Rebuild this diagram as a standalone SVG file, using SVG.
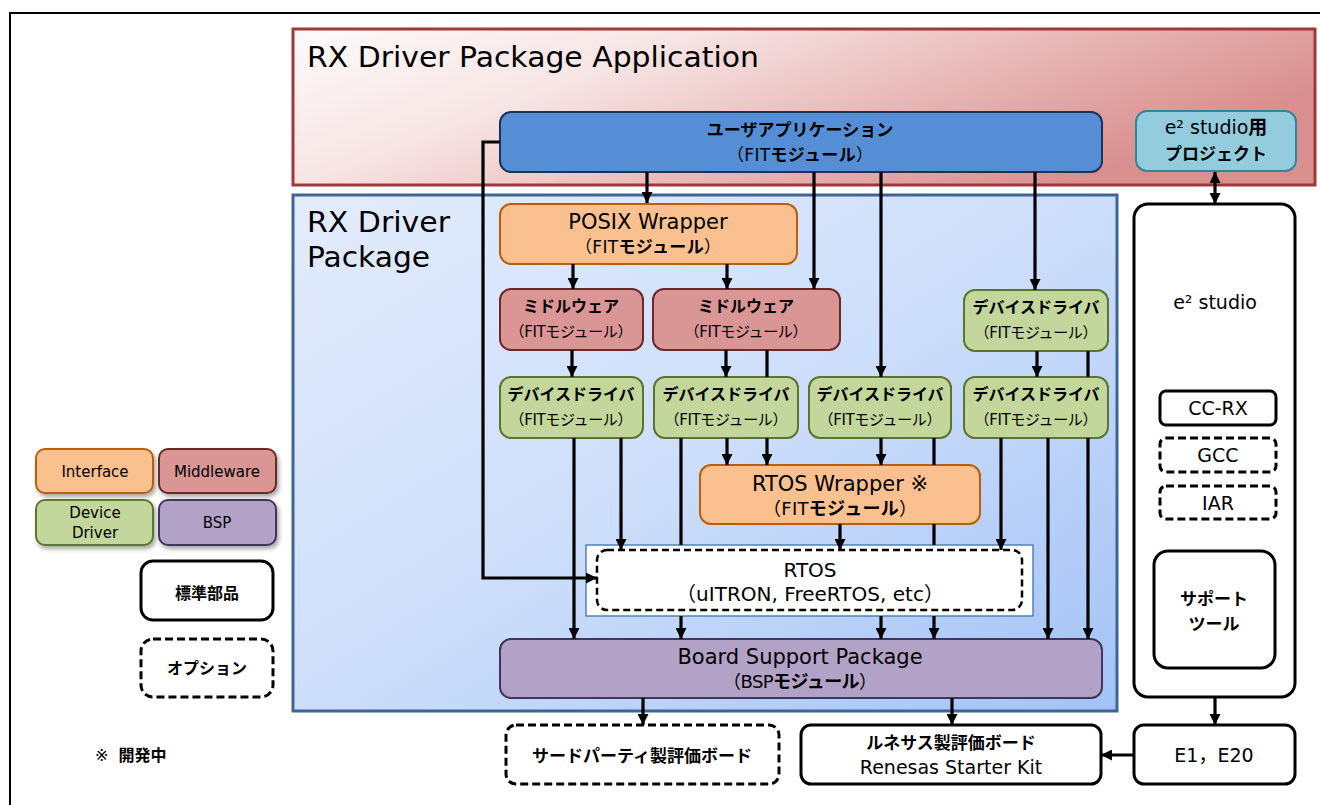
<svg xmlns="http://www.w3.org/2000/svg" width="1320" height="805" viewBox="0 0 1320 805">
<defs>
<linearGradient id="gApp" x1="0" y1="0" x2="1" y2="0.4">
<stop offset="0" stop-color="#fefafa"/>
<stop offset="0.35" stop-color="#f7e4e4"/>
<stop offset="0.7" stop-color="#e6b4b3"/>
<stop offset="1" stop-color="#d88f8e"/>
</linearGradient>
<linearGradient id="gDrv" x1="0" y1="0" x2="1" y2="1">
<stop offset="0" stop-color="#e3ecfc"/>
<stop offset="0.5" stop-color="#cddefa"/>
<stop offset="1" stop-color="#a2c2f6"/>
</linearGradient>
<marker id="ah" viewBox="0 0 10 10" refX="10" refY="5" markerWidth="11" markerHeight="11" markerUnits="userSpaceOnUse" orient="auto-start-reverse">
<path d="M0,0 L10,5 L0,10 z" fill="#000"/>
</marker>
<filter id="sh" x="-10%" y="-10%" width="130%" height="140%">
<feDropShadow dx="2" dy="3" stdDeviation="2" flood-color="#000" flood-opacity="0.35"/>
</filter>
</defs>
<style>
text{font-family:"DejaVu Sans","Noto Sans CJK JP",sans-serif;fill:#000;text-anchor:middle}
.j{font-family:"Noto Sans CJK JP",sans-serif;font-weight:bold}
.b{font-weight:bold;font-family:"Noto Sans CJK JP",sans-serif}
.title{font-size:28px;text-anchor:start}
.n21{font-size:21px}
.n20{font-size:20px}
.n17{font-size:17px}
.n16{font-size:16px}
.n15{font-size:15px}
.iface{fill:#fac090;stroke:#b6600f;stroke-width:2}
.mid{fill:#d99694;stroke:#6a2a28;stroke-width:2}
.dd{fill:#c3d69b;stroke:#5b7530;stroke-width:2}
.bsp{fill:#b3a2c7;stroke:#43355a;stroke-width:2}
.plain{fill:#fff;stroke:#000;stroke-width:3}
.dash{fill:#fff;stroke:#000;stroke-width:3;stroke-dasharray:8 4}
.con{fill:none;stroke:#000;stroke-width:3.2}
</style>

<path d="M10 805 V13 H1320" fill="none" stroke="#000" stroke-width="2"/>

<g id="app-container">
<rect x="293" y="29" width="1022" height="156" fill="url(#gApp)" stroke="#a0393a" stroke-width="3"/>
<text class="title" x="307" y="67" textLength="452" lengthAdjust="spacingAndGlyphs">RX Driver Package Application</text>
</g>

<g id="driver-container">
<rect x="293" y="195" width="824" height="516" fill="url(#gDrv)" stroke="#3d6596" stroke-width="3"/>
<text class="title" x="307" y="232" textLength="143" lengthAdjust="spacingAndGlyphs">RX Driver</text>
<text class="title" x="307" y="267" textLength="123" lengthAdjust="spacingAndGlyphs">Package</text>
</g>

<g id="user-app">
<rect x="500" y="112" width="602" height="60" rx="11" fill="#558ed5" stroke="#1a355c" stroke-width="2"/>
<text class="n17 j" x="800" y="136">ユーザアプリケーション</text>
<text class="n17" x="800" y="161" textLength="146">（FIT<tspan class="b">モジュール</tspan>）</text>
</g>

<g id="e2-project">
<rect x="1136" y="111" width="160" height="60" rx="11" fill="#93cddd" stroke="#31859c" stroke-width="2"/>
<text x="1216" y="134" style="font-size:19px">e² studio<tspan class="b">用</tspan></text>
<text class="n17 j" x="1216" y="160">プロジェクト</text>
</g>

<g id="posix">
<rect x="500" y="204" width="297" height="60" rx="11" class="iface"/>
<text class="n21" x="648" y="229">POSIX Wrapper</text>
<text class="n17" x="648" y="253" textLength="146">（FIT<tspan class="b">モジュール</tspan>）</text>
</g>

<g id="mw1">
<rect x="500" y="289" width="143" height="61" rx="11" class="mid"/>
<text class="n16 j" x="571" y="312">ミドルウェア</text>
<text class="n15" x="571" y="337" textLength="123">（FITモジュール）</text>
</g>

<g id="mw2">
<rect x="653" y="289" width="187" height="61" rx="11" class="mid"/>
<text class="n16 j" x="746" y="312">ミドルウェア</text>
<text class="n15" x="746" y="337" textLength="123">（FITモジュール）</text>
</g>

<g id="dd-top">
<rect x="964" y="290" width="144" height="61" rx="11" class="dd"/>
<text class="n16 j" x="1036" y="313">デバイスドライバ</text>
<text class="n15" x="1036" y="338" textLength="123">（FITモジュール）</text>
</g>

<g id="dd1">
<rect x="500" y="377" width="143" height="61" rx="11" class="dd"/>
<text class="n16 j" x="571" y="400">デバイスドライバ</text>
<text class="n15" x="571" y="425" textLength="123">（FITモジュール）</text>
</g>

<g id="dd2">
<rect x="654" y="377" width="144" height="61" rx="11" class="dd"/>
<text class="n16 j" x="726" y="400">デバイスドライバ</text>
<text class="n15" x="726" y="425" textLength="123">（FITモジュール）</text>
</g>

<g id="dd3">
<rect x="809" y="377" width="142" height="61" rx="11" class="dd"/>
<text class="n16 j" x="880" y="400">デバイスドライバ</text>
<text class="n15" x="880" y="425" textLength="123">（FITモジュール）</text>
</g>

<g id="dd4">
<rect x="964" y="377" width="144" height="61" rx="11" class="dd"/>
<text class="n16 j" x="1036" y="400">デバイスドライバ</text>
<text class="n15" x="1036" y="425" textLength="123">（FITモジュール）</text>
</g>

<g id="rtos-wrapper">
<rect x="700" y="465" width="280" height="59" rx="11" class="iface"/>
<text class="n21" x="840" y="491">RTOS Wrapper ※</text>
<text class="n17" x="840" y="515" textLength="154" style="font-size:18px">（FIT<tspan class="b">モジュール</tspan>）</text>
</g>

<g id="rtos">
<rect x="586" y="545" width="447" height="71" fill="#fff" stroke="#4f81bd" stroke-width="1.5"/>
<rect x="597" y="550" width="425" height="60" rx="10" fill="#fff" stroke="#000" stroke-width="2.5" stroke-dasharray="7 4"/>
<text class="n20" x="810" y="577">RTOS</text>
<text class="n20" x="810" y="601" textLength="268">（uITRON, FreeRTOS, etc）</text>
</g>

<g id="bsp">
<rect x="500" y="639" width="602" height="59" rx="11" class="bsp"/>
<text class="n21" x="800" y="664">Board Support Package</text>
<text x="800" y="688" textLength="154" style="font-size:18px">（BSP<tspan class="b">モジュール</tspan>）</text>
</g>

<g id="e2-studio">
<rect x="1134" y="204" width="161" height="493" rx="14" class="plain"/>
<text x="1215" y="309" style="font-size:19px">e² studio</text>
</g>

<g id="cc-rx">
<rect x="1160" y="391" width="116" height="34" rx="6" class="plain" stroke-width="2.5"/>
<text x="1218" y="415" style="font-size:19px">CC-RX</text>
</g>

<g id="gcc">
<rect x="1160" y="438" width="116" height="34" rx="6" class="dash" stroke-width="2.5"/>
<text x="1218" y="462" style="font-size:19px">GCC</text>
</g>

<g id="iar">
<rect x="1160" y="486" width="116" height="33" rx="6" class="dash" stroke-width="2.5"/>
<text x="1218" y="510" style="font-size:19px">IAR</text>
</g>

<g id="support-tool">
<rect x="1154" y="551" width="121" height="117" rx="14" class="plain"/>
<text class="n17 j" x="1214" y="605">サポート</text>
<text class="n17 j" x="1214" y="630">ツール</text>
</g>

<g id="e1-e20">
<rect x="1134" y="725" width="161" height="59" rx="10" class="plain"/>
<text x="1214" y="762" style="font-size:19px">E1，E20</text>
</g>

<g id="renesas-board">
<rect x="801" y="725" width="300" height="59" rx="10" class="plain"/>
<text class="n17 j" x="951" y="749">ルネサス製評価ボード</text>
<text x="951" y="774" style="font-size:19px">Renesas Starter Kit</text>
</g>

<g id="third-party-board">
<rect x="506" y="725" width="273" height="59" rx="10" class="dash"/>
<text class="n17 j" x="642" y="762">サードパーティ製評価ボード</text>
</g>

<g id="legend">
<g id="legend-interface"><rect x="36" y="449" width="117" height="44" rx="9" class="iface" filter="url(#sh)"/><text class="n15" x="95" y="477">Interface</text></g>
<g id="legend-middleware"><rect x="159" y="449" width="117" height="44" rx="9" class="mid" filter="url(#sh)"/><text class="n15" x="217" y="477">Middleware</text></g>
<g id="legend-dd"><rect x="36" y="500" width="117" height="45" rx="9" class="dd" filter="url(#sh)"/><text class="n15" x="95" y="518">Device</text><text class="n15" x="95" y="538">Driver</text></g>
<g id="legend-bsp"><rect x="159" y="500" width="117" height="45" rx="9" class="bsp" filter="url(#sh)"/><text class="n15" x="217" y="528">BSP</text></g>
<g id="legend-standard"><rect x="141" y="561" width="132" height="59" rx="12" class="plain"/><text class="n16 j" x="207" y="599">標準部品</text></g>
<g id="legend-option"><rect x="141" y="639" width="132" height="58" rx="12" class="dash"/><text class="n16 j" x="207" y="674">オプション</text></g>
<g id="legend-note"><text class="n16" x="95" y="761" style="text-anchor:start">※<tspan class="b" dx="10">開発中</tspan></text></g>
</g>

<g id="connectors">
<path class="con" d="M647 172 V203" marker-end="url(#ah)"/>
<path class="con" d="M814 172 V289" marker-end="url(#ah)"/>
<path class="con" d="M881 172 V377" marker-end="url(#ah)"/>
<path class="con" d="M1035 172 V290" marker-end="url(#ah)"/>
<path class="con" d="M500 142 H483 V578 H597" marker-end="url(#ah)"/>
<path class="con" d="M573 264 V289" marker-end="url(#ah)"/>
<path class="con" d="M727 264 V289" marker-end="url(#ah)"/>
<path class="con" d="M572 350 V377" marker-end="url(#ah)"/>
<path class="con" d="M726 350 V377" marker-end="url(#ah)"/>
<path class="con" d="M767 350 V377 M767 438 V465" marker-end="url(#ah)"/>
<path class="con" d="M574 438 V639" marker-end="url(#ah)"/>
<path class="con" d="M621 438 V550" marker-end="url(#ah)"/>
<path class="con" d="M681 438 V545 M681 616 V639" marker-end="url(#ah)"/>
<path class="con" d="M727 438 V465" marker-end="url(#ah)"/>
<path class="con" d="M1037 351 V377" marker-end="url(#ah)"/>
<path class="con" d="M1088 351 V377 M1088 438 V639" marker-end="url(#ah)"/>
<path class="con" d="M881 438 V465" marker-end="url(#ah)"/>
<path class="con" d="M934 438 V465 M934 524 V545 M934 616 V639" marker-end="url(#ah)"/>
<path class="con" d="M1001 438 V550" marker-end="url(#ah)"/>
<path class="con" d="M1048 438 V639" marker-end="url(#ah)"/>
<path class="con" d="M840 524 V550" marker-end="url(#ah)"/>
<path class="con" d="M881 616 V639" marker-end="url(#ah)"/>
<path class="con" d="M643 698 V725" marker-end="url(#ah)"/>
<path class="con" d="M952 698 V725" marker-end="url(#ah)"/>
<path class="con" d="M1215 172 V204" marker-start="url(#ah)" marker-end="url(#ah)"/>
<path class="con" d="M1215 697 V725" marker-end="url(#ah)"/>
<path class="con" d="M1134 755 H1101" marker-end="url(#ah)"/>
</g>
</svg>
